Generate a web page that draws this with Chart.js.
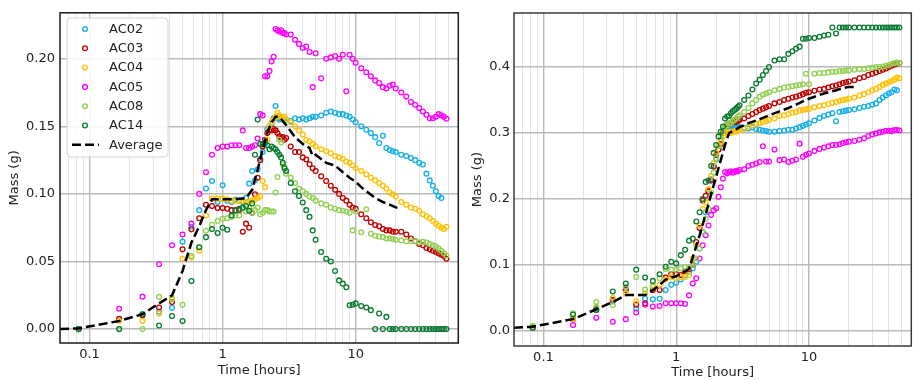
<!DOCTYPE html>
<html><head><meta charset="utf-8">
<script src="https://cdn.jsdelivr.net/npm/chart.js@4/dist/chart.umd.min.js"></script>
<style>
html,body{margin:0;padding:0;background:#fff;}
#wrap{position:relative;width:915px;height:380px;overflow:hidden;background:#fff;}
canvas{position:absolute;top:0;}
</style></head><body>
<div id="wrap">
<canvas id="left" width="462" height="380" style="left:0px"></canvas>
<canvas id="right" width="455" height="380" style="left:460px"></canvas>
</div>
<script>
// sampling times (hours)
const hours = [
0.083,0.167,0.25,0.333,0.417,0.5,0.583,0.667,0.75,0.833,0.917,1,
1.083,1.167,1.25,1.333,1.417,1.5,1.583,1.667,1.75,1.833,1.917,2,
2.083,2.167,2.25,2.333,2.417,2.5,2.583,2.667,2.75,2.833,2.917,3,
3.25,3.5,3.75,4,4.25,4.5,4.75,5,
5.5,6,6.5,7,7.5,8,8.5,9,9.5,10,
11,12,13,14,15,16,17,18,19,20,
22,24,26,28,30,32,34,36,38,40,42,44,46,48];
const avgHours = [0.06,0.083,0.167,0.25,0.333,0.417,0.5,0.583,0.667,0.75,0.833,0.917,1,1.25,1.5,1.667,1.833,2,2.167,2.333,2.5,2.667,2.833,3,3.5,4,4.5,4.75,5,6,7,8,9,10,11,12,14,16,18,20,22];
const seriesNames = ['AC02','AC03','AC04','AC05','AC08','AC14'];
const seriesColors = ['#12aee8','#c00000','#ffc000','#ff00ff','#92d050','#0a7a32'];

// ---- left panel values (g) ----
const ac02Left = [
0,0.0076,0.011,0.013,0.0157,0.0647,0.0757,0.088,0.104,0.1096,0.094,0.1064,
0.095,0.094,0.0958,0.095,0.094,0.097,0.1076,0.117,0.110,0.118,0.126,0.131,
0.137,0.148,0.150,0.152,0.156,0.165,0.156,0.155,0.156,0.155,0.154,0.155,
0.154,0.156,0.155,0.156,0.155,0.156,0.157,0.157,
0.158,0.160,0.161,0.160,0.159,0.159,0.158,0.157,0.155,0.153,
0.150,0.1475,0.145,0.142,0.1377,0.143,0.134,0.1325,0.1316,0.131,
0.129,0.128,0.1265,0.125,0.123,0.1218,0.115,0.110,0.106,0.102,0.0985,0.097,null,null];
const ac03Left = [
0,0.0074,0.010,0.016,0.020,0.059,0.0738,0.082,0.092,0.091,0.0895,0.0895,
0.089,0.088,0.088,0.088,0.072,0.078,0.075,0.086,0.0998,0.112,0.125,0.135,
0.140,0.145,0.1475,0.147,0.148,0.147,0.145,0.1426,0.1414,0.142,0.140,0.1414,
0.135,0.131,0.131,0.127,0.1255,0.122,0.119,0.117,
0.113,0.1096,0.106,0.103,0.100,0.097,0.095,0.092,0.090,0.089,
0.085,0.082,0.079,0.077,0.076,0.074,0.073,0.073,0.072,0.072,
0.072,0.070,0.067,0.065,0.063,0.062,0.060,0.059,0.058,0.057,0.056,0.055,0.054,0.052];
const ac04Left = [
0,0.006,0.006,0.0115,0.023,0.052,0.053,0.058,0.084,0.0965,0.0965,0.0965,
0.096,0.095,0.095,0.095,0.095,0.094,0.094,0.095,0.096,0.097,0.098,0.1096,
0.105,0.140,0.150,0.153,0.155,0.157,0.160,0.158,0.157,0.156,0.157,0.155,
0.153,0.150,0.147,0.144,0.140,0.139,0.137,0.1353,
0.133,0.1316,0.130,0.128,0.127,0.126,0.124,0.123,0.121,0.119,
0.117,0.1145,0.112,0.110,0.108,0.106,0.104,0.101,0.0998,0.098,
0.094,0.092,0.090,0.089,0.0875,0.085,0.0835,0.082,0.080,0.078,0.0765,0.075,0.074,0.0757];
const ac05Left = [
0,0.015,0.024,0.048,0.062,0.070,0.078,0.100,0.116,0.129,0.134,0.135,
0.135,0.136,0.136,0.136,0.147,0.134,0.134,0.135,0.136,0.141,0.159,0.158,
0.187,0.187,0.191,0.198,0.2015,0.222,0.221,0.220,0.221,0.219,0.219,0.218,
0.218,0.214,0.211,0.208,0.209,0.205,0.179,0.204,
0.1855,0.200,0.201,0.202,0.200,0.203,0.176,0.203,0.200,0.197,
0.193,0.190,0.187,0.184,0.182,0.179,0.178,0.180,0.181,0.178,
0.175,0.172,0.168,0.166,0.1635,0.161,0.1586,0.156,0.156,0.157,0.159,0.158,0.157,0.1556];
const ac08Left = [
0,0,0,0.0238,0.022,0.018,0.054,0.0605,0.0728,0.0772,0.080,0.0816,
0.082,0.083,0.084,0.084,0.089,0.087,0.090,0.086,0.088,0.090,0.085,0.086,
0.088,0.088,0.087,0.087,0.087,0.101,0.1125,0.140,0.138,0.1218,0.120,0.115,
0.112,0.108,0.104,0.102,0.100,0.098,0.097,0.095,
0.093,0.092,0.090,0.089,0.088,0.0875,0.087,0.086,0.073,0.087,
0.0716,0.0887,0.0705,0.069,0.0685,0.068,0.067,0.067,0.0667,0.066,
0.0655,0.065,0.065,0.065,0.064,0.0645,0.064,0.063,0.062,0.061,0.0595,0.058,0.056,0.0544];
const ac14Left = [
0,0,0.011,0.0027,0.0096,0.0059,0.0355,0.0605,0.068,0.074,0.071,0.075,
0.0735,0.084,0.0875,0.089,0.090,0.091,0.0875,0.093,0.129,0.155,0.137,0.1365,
0.138,0.136,0.133,0.135,0.134,0.133,0.131,0.129,0.127,0.123,0.119,0.117,
0.108,0.102,0.0985,0.0936,0.088,0.083,0.073,0.066,
0.057,0.052,0.050,0.043,0.036,0.0336,0.031,0.0176,0.018,0.019,
0.017,0.016,0.014,0,0.0115,0,0.009,0,0,0,
0,0,0,0,0,0,0,0,0,0,0,0,0,0];
const averageLeft = [0,0.0005,0.006,0.011,0.019,0.025,0.043,0.064,0.076,0.088,0.096,0.096,0.096,0.096,0.097,0.103,0.118,0.133,0.145,0.153,0.157,0.157,0.154,0.151,0.142,0.137,0.134,0.128,0.129,0.123,0.121,0.116,0.112,0.109,0.105,0.102,0.097,0.094,0.092,0.090,0.089];

// ---- right panel values (g) ----
const ac02Right = [
0.005,0.018,0.035,0.045,0.065,0.034,0.049,0.048,0.049,0.062,0.070,0.073,
0.078,0.085,0.090,0.095,0.105,0.125,0.150,0.180,0.211,0.230,0.250,0.260,
0.275,0.290,0.300,0.305,0.310,0.309,0.310,0.308,0.309,0.310,0.311,0.309,
0.308,0.307,0.309,0.306,0.305,0.304,0.303,0.302,
0.302,0.303,0.304,0.305,0.305,0.307,0.309,0.311,0.313,0.315,
0.319,0.323,0.326,0.328,0.330,0.318,0.332,0.333,0.334,0.335,
0.336,0.338,0.340,0.341,0.343,0.345,0.350,0.354,0.357,0.360,0.362,0.366,0.365,null];
const ac03Right = [
0.005,0.018,0.032,0.047,0.062,0.040,0.042,0.062,0.062,0.081,0.086,0.086,
0.085,0.090,0.094,0.100,0.135,0.156,0.198,0.205,0.212,0.228,0.249,0.267,
0.275,0.283,0.300,0.310,0.313,0.314,0.315,0.316,0.318,0.317,0.319,0.320,
0.322,0.326,0.329,0.332,0.335,0.337,0.339,0.341,
0.345,0.347,0.350,0.352,0.354,0.355,0.357,0.359,0.361,0.362,
0.364,0.366,0.367,0.369,0.371,0.372,0.374,0.376,0.377,0.378,
0.380,0.383,0.385,0.388,0.390,0.392,0.394,0.396,0.398,0.400,0.402,0.404,0.405,0.406];
const ac04Right = [
0.005,0.018,0.037,0.050,0.057,0.045,0.057,0.069,0.070,0.078,0.082,0.080,
0.082,0.082,0.085,0.110,0.130,0.160,0.185,0.195,0.215,0.235,0.255,0.270,
0.282,0.287,0.295,0.300,0.301,0.302,0.300,0.302,0.303,0.302,0.305,0.305,
0.306,0.310,0.312,0.314,0.315,0.317,0.318,0.320,
0.322,0.326,0.327,0.329,0.331,0.332,0.334,0.335,0.336,0.337,
0.339,0.341,0.342,0.344,0.346,0.347,0.349,0.350,0.351,0.352,
0.354,0.357,0.359,0.362,0.365,0.367,0.370,0.373,0.375,0.377,0.379,0.381,0.384,0.383];
const ac05Right = [
0.005,0.009,0.020,0.014,0.018,0.028,0.040,0.037,0.038,0.042,0.042,0.042,
0.042,0.041,0.054,0.072,0.080,0.110,0.130,0.145,0.160,0.176,0.183,0.186,
0.2035,0.218,0.231,0.241,0.239,0.241,0.242,0.240,0.241,0.243,0.242,0.244,
0.245,0.250,0.252,0.254,0.256,0.280,0.257,0.257,
0.275,0.259,0.260,0.256,0.258,0.260,0.284,0.264,0.267,0.269,
0.273,0.276,0.278,0.280,0.282,0.282,0.283,0.285,0.286,0.287,
0.288,0.290,0.292,0.2955,0.298,0.2995,0.301,0.302,0.3035,0.3035,0.303,0.3045,0.3045,0.304];
const ac08Right = [
0.008,0.027,0.044,0.039,0.067,0.082,0.063,0.067,0.080,0.094,0.093,0.093,
0.095,0.097,0.096,0.100,0.110,0.125,0.150,0.170,0.185,0.210,0.240,0.262,
0.280,0.295,0.305,0.310,0.312,0.315,0.315,0.318,0.320,0.322,0.325,0.327,
0.332,0.338,0.345,0.350,0.355,0.358,0.360,0.362,
0.365,0.367,0.369,0.370,0.371,0.372,0.373,0.374,0.390,0.374,
0.390,0.391,0.391,0.392,0.393,0.393,0.394,0.394,0.395,0.395,
0.396,0.397,0.397,0.398,0.399,0.400,0.400,0.401,0.402,0.403,0.405,0.406,0.407,0.406];
const ac14Right = [
0.005,0.025,0.032,0.060,0.072,0.093,0.081,0.076,0.086,0.0975,0.105,0.1025,
0.115,0.123,0.137,0.140,0.166,0.180,0.200,0.226,0.228,0.250,0.270,0.282,
0.295,0.302,0.310,0.322,0.325,0.326,0.330,0.333,0.335,0.337,0.340,0.342,
0.350,0.357,0.366,0.375,0.381,0.388,0.394,0.400,
0.410,0.412,0.412,0.420,0.424,0.428,0.431,0.443,0.443,0.444,
0.444,0.446,0.448,0.449,0.460,0.451,0.460,0.460,0.460,0.460,
0.460,0.460,0.460,0.460,0.460,0.460,0.460,0.460,0.460,0.460,0.460,0.460,0.460,0.460];
const averageRight = [0.005,0.0066,0.018,0.033,0.044,0.0545,0.0545,0.0545,0.062,0.070,0.078,0.081,0.083,0.094,0.145,0.177,0.207,0.234,0.259,0.282,0.300,0.303,0.306,0.309,0.315,0.319,0.323,0.325,0.327,0.333,0.338,0.343,0.348,0.352,0.355,0.358,0.362,0.365,0.368,0.370,0.370];

// ---- axes ticks ----
const xGridValues = [0.07,0.08,0.09,0.1,0.2,0.3,0.4,0.5,0.6,0.7,0.8,0.9,1,2,3,4,5,6,7,8,9,10,20,30,40,50];
const xTickValues = [0.1,1,10];
const xTickLabels = ['0.1','1','10'];
const leftYTickValues = [0,0.05,0.1,0.15,0.2];
const leftYTickLabels = ['0.00','0.05','0.10','0.15','0.20'];
const rightYTickValues = [0,0.1,0.2,0.3,0.4];
const rightYTickLabels = ['0.0','0.1','0.2','0.3','0.4'];

Chart.defaults.font.family = '"DejaVu Sans", "Liberation Sans", sans-serif';
Chart.defaults.font.size = 13;
Chart.defaults.color = '#222';

function findIdx(arr, v){ return arr.findIndex(t => Math.abs(t - v) < 1e-9 * Math.max(1, Math.abs(t))); }
function isDecade(v){ return findIdx(xTickValues, v) >= 0; }

const framePlugin = {
  id: 'frame',
  afterDatasetsDraw(chart, args, opts){
    const a = chart.chartArea, ctx = chart.ctx;
    ctx.save();
    ctx.strokeStyle = opts.color; ctx.lineWidth = opts.width;
    ctx.strokeRect(a.left, a.top, a.right - a.left, a.bottom - a.top);
    ctx.restore();
  }
};

const legendPlugin = {
  id: 'boxLegend',
  afterDraw(chart, args, opts){
    if (!opts.show) return;
    const ctx = chart.ctx;
    const x0 = 67, y0 = 18, w = 101, h = 139, r = 4;
    ctx.save();
    ctx.beginPath();
    ctx.moveTo(x0 + r, y0); ctx.lineTo(x0 + w - r, y0); ctx.arcTo(x0 + w, y0, x0 + w, y0 + r, r);
    ctx.lineTo(x0 + w, y0 + h - r); ctx.arcTo(x0 + w, y0 + h, x0 + w - r, y0 + h, r);
    ctx.lineTo(x0 + r, y0 + h); ctx.arcTo(x0, y0 + h, x0, y0 + h - r, r);
    ctx.lineTo(x0, y0 + r); ctx.arcTo(x0, y0, x0 + r, y0, r); ctx.closePath();
    ctx.fillStyle = 'rgba(255,255,255,0.85)'; ctx.fill();
    ctx.strokeStyle = '#d4d4d4'; ctx.lineWidth = 1; ctx.stroke();
    ctx.font = '13px "DejaVu Sans", sans-serif';
    ctx.textBaseline = 'middle'; ctx.textAlign = 'left';
    const labels = seriesNames.concat(['Average']);
    labels.forEach((lab, i) => {
      const y = 29 + i * 19.3;
      if (i < seriesNames.length) {
        ctx.beginPath(); ctx.arc(85, y, 2.4, 0, Math.PI * 2);
        ctx.strokeStyle = seriesColors[i]; ctx.lineWidth = 1.3; ctx.stroke();
      } else {
        ctx.beginPath(); ctx.setLineDash([9, 4]); ctx.moveTo(72, y); ctx.lineTo(99, y);
        ctx.strokeStyle = '#000'; ctx.lineWidth = 2.5; ctx.stroke(); ctx.setLineDash([]);
      }
      ctx.fillStyle = '#222';
      ctx.fillText(lab, 109, y + 0.5);
    });
    ctx.restore();
  }
};

function makeChart(id, cfg){
  const datasets = cfg.series.map((vals, i) => ({
    label: seriesNames[i],
    data: hours.map((h, j) => vals[j] == null ? null : {x: h, y: vals[j]}).filter(p => p),
    showLine: false,
    borderColor: seriesColors[i],
    backgroundColor: 'rgba(0,0,0,0)',
    pointBackgroundColor: 'rgba(0,0,0,0)',
    pointBorderColor: seriesColors[i],
    pointRadius: 2.4, pointBorderWidth: 1.3, pointHoverRadius: 2.4,
    order: 6 - i
  }));
  datasets.push({
    label: 'Average',
    data: avgHours.map((h, j) => ({x: h, y: cfg.avg[j]})),
    showLine: true, borderColor: '#000', borderWidth: 2.5, borderDash: [9, 4],
    pointRadius: 0, fill: false, tension: 0, order: 0
  });
  return new Chart(document.getElementById(id), {
    type: 'scatter',
    data: {datasets},
    plugins: [framePlugin, legendPlugin],
    options: {
      responsive: false, animation: false, devicePixelRatio: 1,
      layout: {padding: cfg.pad},
      plugins: {
        legend: {display: false}, tooltip: {enabled: false},
        frame: {color: cfg.frameColor, width: 1.5},
        boxLegend: {show: cfg.legend}
      },
      scales: {
        x: {
          type: 'logarithmic', min: 0.06, max: 59,
          afterBuildTicks: s => { s.ticks = xGridValues.map(v => ({value: v, major: isDecade(v)})); },
          afterFit: s => { s.height = cfg.xH; },
          ticks: {autoSkip: false, maxRotation: 0, padding: 4, color: '#222',
            callback: v => { const k = findIdx(xTickValues, v); return k >= 0 ? xTickLabels[k] : ''; }},
          grid: {drawTicks: false,
            color: c => isDecade(c.tick.value) ? '#b9b9b9' : '#e3e3e3',
            lineWidth: c => isDecade(c.tick.value) ? 1.4 : 1},
          border: {display: false},
          title: {display: true, text: 'Time [hours]', color: '#222', padding: {top: 0, bottom: cfg.xTitlePad}}
        },
        y: {
          min: cfg.yMin, max: cfg.yMax,
          afterBuildTicks: s => { s.ticks = cfg.yTicks.map(v => ({value: v})); },
          afterFit: s => { s.width = cfg.yW; },
          ticks: {padding: cfg.yTickPad, color: '#222',
            callback: v => { const k = findIdx(cfg.yTicks, v); return k >= 0 ? cfg.yLabels[k] : ''; }},
          grid: {drawTicks: false, color: '#b9b9b9', lineWidth: 1.4},
          border: {display: false},
          title: {display: true, text: 'Mass (g)', color: '#222', padding: {top: cfg.yTitlePad, bottom: 0}}
        }
      }
    }
  });
}

makeChart('left', {
  series: [ac02Left, ac03Left, ac04Left, ac05Left, ac08Left, ac14Left],
  avg: averageLeft, yMin: -0.0103, yMax: 0.234,
  yTicks: leftYTickValues, yLabels: leftYTickLabels,
  pad: {top: 11, right: 2, left: 0, bottom: 0}, xH: 37, yW: 60,
  xTitlePad: 1.5, yTitlePad: 7, yTickPad: 5, frameColor: '#1a1a1a', legend: true
});
makeChart('right', {
  series: [ac02Right, ac03Right, ac04Right, ac05Right, ac08Right, ac14Right],
  avg: averageRight, yMin: -0.0227, yMax: 0.482,
  yTicks: rightYTickValues, yLabels: rightYTickLabels,
  pad: {top: 13, right: 1, left: 0, bottom: 0}, xH: 34, yW: 54,
  xTitlePad: 0, yTitlePad: 10, yTickPad: 4, frameColor: '#3a3a3a', legend: false
});
</script>
</body></html>
